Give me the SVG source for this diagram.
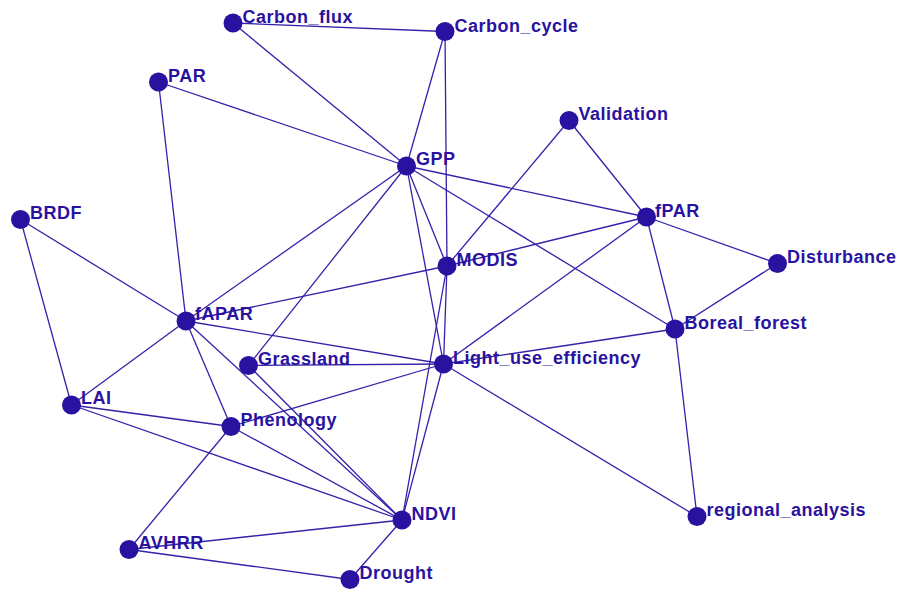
<svg xmlns="http://www.w3.org/2000/svg" width="901" height="590" viewBox="0 0 901 590">
  <style>
    .edge { stroke: #3322aa; stroke-width: 1.3; fill: none; }
    .dot { fill: #2a12a0; }
    .lbl { font-family: "Liberation Sans", Arial, sans-serif; font-weight: bold; font-size: 18px; letter-spacing: 0.5px; fill: #2a12a0; }
  </style>
  <rect width="901" height="590" fill="#ffffff"/>

  <g id="connectors">
    <line class="edge" x1="233" y1="23" x2="445" y2="31.5"/>
    <line class="edge" x1="233" y1="23" x2="406.5" y2="166"/>
    <line class="edge" x1="445" y1="31.5" x2="406.5" y2="166"/>
    <line class="edge" x1="445" y1="31.5" x2="447" y2="266"/>
    <line class="edge" x1="447" y1="266" x2="443.5" y2="364"/>
    <line class="edge" x1="158.5" y1="82" x2="406.5" y2="166"/>
    <line class="edge" x1="158.5" y1="82" x2="186" y2="321"/>
    <line class="edge" x1="406.5" y1="166" x2="646.5" y2="217"/>
    <line class="edge" x1="406.5" y1="166" x2="675" y2="329"/>
    <line class="edge" x1="406.5" y1="166" x2="186" y2="321"/>
    <line class="edge" x1="406.5" y1="166" x2="248.5" y2="365.5"/>
    <line class="edge" x1="406.5" y1="166" x2="447" y2="266"/>
    <line class="edge" x1="406.5" y1="166" x2="443.5" y2="364"/>
    <line class="edge" x1="569" y1="120.5" x2="646.5" y2="217"/>
    <line class="edge" x1="569" y1="120.5" x2="447" y2="266"/>
    <line class="edge" x1="646.5" y1="217" x2="447" y2="266"/>
    <line class="edge" x1="646.5" y1="217" x2="443.5" y2="364"/>
    <line class="edge" x1="646.5" y1="217" x2="675" y2="329"/>
    <line class="edge" x1="646.5" y1="217" x2="777.5" y2="263.5"/>
    <line class="edge" x1="777.5" y1="263.5" x2="675" y2="329"/>
    <line class="edge" x1="675" y1="329" x2="443.5" y2="364"/>
    <line class="edge" x1="675" y1="329" x2="697" y2="516.5"/>
    <line class="edge" x1="443.5" y1="364" x2="697" y2="516.5"/>
    <line class="edge" x1="20.5" y1="219.5" x2="186" y2="321"/>
    <line class="edge" x1="20.5" y1="219.5" x2="71.5" y2="405"/>
    <line class="edge" x1="186" y1="321" x2="447" y2="266"/>
    <line class="edge" x1="186" y1="321" x2="443.5" y2="364"/>
    <line class="edge" x1="186" y1="321" x2="71.5" y2="405"/>
    <line class="edge" x1="186" y1="321" x2="231" y2="426.5"/>
    <line class="edge" x1="186" y1="321" x2="402" y2="520"/>
    <line class="edge" x1="248.5" y1="365.5" x2="443.5" y2="364"/>
    <line class="edge" x1="248.5" y1="365.5" x2="402" y2="520"/>
    <line class="edge" x1="71.5" y1="405" x2="231" y2="426.5"/>
    <line class="edge" x1="71.5" y1="405" x2="402" y2="520"/>
    <line class="edge" x1="231" y1="426.5" x2="443.5" y2="364"/>
    <line class="edge" x1="231" y1="426.5" x2="402" y2="520"/>
    <line class="edge" x1="231" y1="426.5" x2="129" y2="549.5"/>
    <line class="edge" x1="129" y1="549.5" x2="402" y2="520"/>
    <line class="edge" x1="129" y1="549.5" x2="350" y2="579.5"/>
    <line class="edge" x1="402" y1="520" x2="350" y2="579.5"/>
    <line class="edge" x1="443.5" y1="364" x2="402" y2="520"/>
    <line class="edge" x1="447" y1="266" x2="402" y2="520"/>
  </g>

  <g id="Carbon_flux"><circle class="dot" cx="233" cy="23" r="9.5"/><text class="lbl" x="242.5" y="23">Carbon_flux</text></g>
  <g id="Carbon_cycle"><circle class="dot" cx="445" cy="31.5" r="9.5"/><text class="lbl" x="454.5" y="31.5">Carbon_cycle</text></g>
  <g id="PAR"><circle class="dot" cx="158.5" cy="82" r="9.5"/><text class="lbl" x="168" y="82">PAR</text></g>
  <g id="GPP"><circle class="dot" cx="406.5" cy="166" r="9.5"/><text class="lbl" x="416" y="165">GPP</text></g>
  <g id="Validation"><circle class="dot" cx="569" cy="120.5" r="9.5"/><text class="lbl" x="578.5" y="120">Validation</text></g>
  <g id="fPAR"><circle class="dot" cx="646.5" cy="217" r="9.5"/><text class="lbl" x="655" y="217">fPAR</text></g>
  <g id="BRDF"><circle class="dot" cx="20.5" cy="219.5" r="9.5"/><text class="lbl" x="30" y="219">BRDF</text></g>
  <g id="MODIS"><circle class="dot" cx="447" cy="266" r="9.5"/><text class="lbl" x="456.5" y="266">MODIS</text></g>
  <g id="Disturbance"><circle class="dot" cx="777.5" cy="263.5" r="9.5"/><text class="lbl" x="787" y="263">Disturbance</text></g>
  <g id="fAPAR"><circle class="dot" cx="186" cy="321" r="9.5"/><text class="lbl" x="195" y="320">fAPAR</text></g>
  <g id="Boreal_forest"><circle class="dot" cx="675" cy="329" r="9.5"/><text class="lbl" x="684.5" y="329">Boreal_forest</text></g>
  <g id="Grassland"><circle class="dot" cx="248.5" cy="365.5" r="9.5"/><text class="lbl" x="258" y="365">Grassland</text></g>
  <g id="Light_use_efficiency"><circle class="dot" cx="443.5" cy="364" r="9.5"/><text class="lbl" x="453" y="363.5">Light_use_efficiency</text></g>
  <g id="LAI"><circle class="dot" cx="71.5" cy="405" r="9.5"/><text class="lbl" x="81" y="404">LAI</text></g>
  <g id="Phenology"><circle class="dot" cx="231" cy="426.5" r="9.5"/><text class="lbl" x="240.5" y="426">Phenology</text></g>
  <g id="NDVI"><circle class="dot" cx="402" cy="520" r="9.5"/><text class="lbl" x="411.5" y="520">NDVI</text></g>
  <g id="regional_analysis"><circle class="dot" cx="697" cy="516.5" r="9.5"/><text class="lbl" x="706.5" y="516">regional_analysis</text></g>
  <g id="AVHRR"><circle class="dot" cx="129" cy="549.5" r="9.5"/><text class="lbl" x="138.5" y="549">AVHRR</text></g>
  <g id="Drought"><circle class="dot" cx="350" cy="579.5" r="9.5"/><text class="lbl" x="359.5" y="579">Drought</text></g>
</svg>
